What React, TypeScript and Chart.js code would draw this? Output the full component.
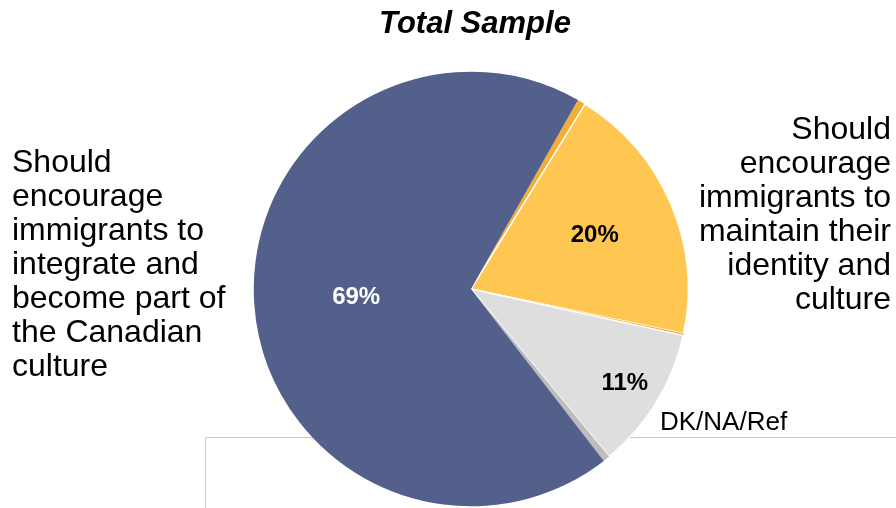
import React, { useEffect, useRef } from "react";
import { Chart, registerables } from "chart.js";

Chart.register(...registerables);

const chartTitle = "Total Sample";
const categories = [
  "Should encourage immigrants to integrate and become part of the Canadian culture",
  "Should encourage immigrants to maintain their identity and culture",
  "DK/NA/Ref",
];
// slices in clockwise order, starting at the top-right edge
const sliceNames = ["edge-a", "maintain", "edge-b", "dk", "edge-c", "integrate"];
const sliceValues = [0.6, 19.5, 0.15, 10.6, 0.5, 68.7];
const sliceLabels = ["", "20%", "", "11%", "", "69%"];
const sliceColors = ["#F2AE34", "#FFC652", "#F2AE34", "#DEDEDE", "#BDBDBD", "#52608B"];
const sliceBorders = [0, 1.5, 0, 1.5, 0, 0];
const labelColors = ["#000", "#000", "#000", "#000", "#000", "#FFFFFF"];
const labelRadius = [0, 0.62, 0, 0.83, 0, 0.53];

const leftLines = ["Should", "encourage", "immigrants to", "integrate and", "become part of", "the Canadian", "culture"];
const rightLines = ["Should", "encourage", "immigrants to", "maintain their", "identity and", "culture"];
const dkLabel = "DK/NA/Ref";

const FONT = "'Liberation Sans', Arial, Helvetica, sans-serif";

const decorPlugin = {
  id: "decor",
  beforeDatasetsDraw(chart: any) {
    const ctx = chart.ctx;
    ctx.save();
    ctx.strokeStyle = "#C8C8C8";
    ctx.lineWidth = 1;
    ctx.beginPath();
    ctx.moveTo(205.5, chart.height + 5);
    ctx.lineTo(205.5, 437.5);
    ctx.lineTo(chart.width + 5, 437.5);
    ctx.stroke();
    ctx.restore();
  },
  afterDatasetsDraw(chart: any) {
    const ctx = chart.ctx;
    const meta = chart.getDatasetMeta(0);
    ctx.save();
    ctx.font = `bold 24px ${FONT}`;
    ctx.textAlign = "center";
    ctx.textBaseline = "middle";
    meta.data.forEach((arc: any, i: number) => {
      const text = sliceLabels[i];
      if (!text) return;
      const p = arc.getProps(["x", "y", "startAngle", "endAngle", "outerRadius"], true);
      const mid = (p.startAngle + p.endAngle) / 2;
      const r = p.outerRadius * labelRadius[i];
      ctx.fillStyle = labelColors[i];
      ctx.fillText(text, p.x + Math.cos(mid) * r, p.y + Math.sin(mid) * r);
    });
    ctx.restore();
  },
  afterDraw(chart: any) {
    const ctx = chart.ctx;
    ctx.save();
    ctx.fillStyle = "#000";
    ctx.textBaseline = "alphabetic";
    ctx.font = `italic bold 31px ${FONT}`;
    ctx.textAlign = "center";
    ctx.fillText(chartTitle, 475, 33);

    ctx.font = `32px ${FONT}`;
    ctx.textAlign = "left";
    leftLines.forEach((line, i) => ctx.fillText(line, 12, 172 + i * 34));
    ctx.textAlign = "right";
    rightLines.forEach((line, i) => ctx.fillText(line, 891, 139 + i * 34));

    ctx.font = `26px ${FONT}`;
    ctx.textAlign = "left";
    ctx.fillText(dkLabel, 660, 430);
    ctx.restore();
  },
};

export default function App() {
  const ref = useRef<HTMLCanvasElement>(null);
  useEffect(() => {
    document.body.style.margin = "0";
    const canvas = ref.current!;
    const chart = new Chart(canvas, {
      type: "pie",
      data: {
        labels: sliceNames,
        datasets: [
          {
            data: sliceValues,
            backgroundColor: sliceColors,
            borderColor: "#FFFFFF",
            borderWidth: sliceBorders,
          },
        ],
      },
      options: {
        responsive: false,
        animation: false,
        rotation: 29.5,
        layout: { padding: { top: 71, bottom: 1, left: 253, right: 207 } },
        plugins: {
          legend: { display: false },
          tooltip: { enabled: false },
          title: { display: false },
        },
      },
      plugins: [decorPlugin],
    });
    return () => chart.destroy();
  }, []);
  return (
    <div style={{ position: "absolute", left: 0, top: 0, width: 896, height: 508, background: "#fff" }}>
      <canvas ref={ref} width={896} height={508} style={{ width: 896, height: 508 }} aria-label={categories.join("; ")} />
    </div>
  );
}
